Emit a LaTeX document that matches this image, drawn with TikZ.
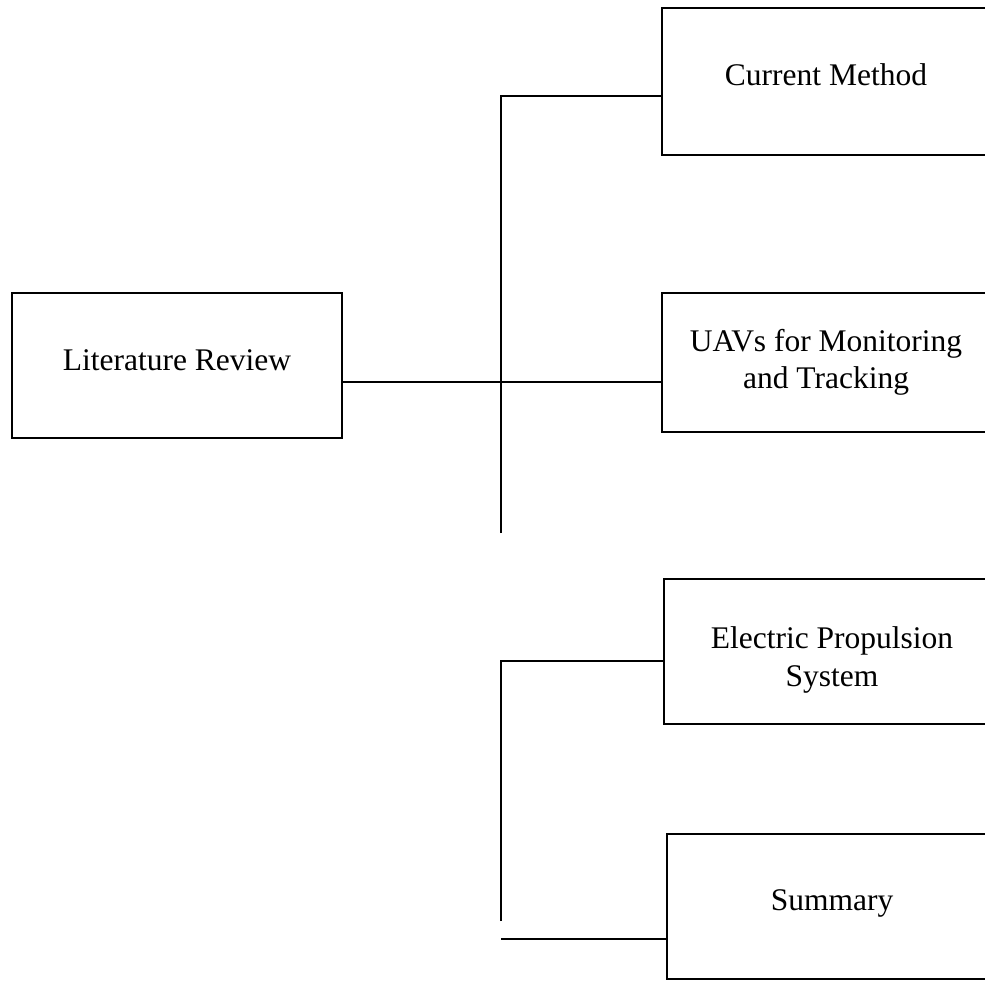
\documentclass[tikz,border=0pt]{standalone}
\usepackage{fontspec}
\setmainfont{Liberation Serif}
\begin{document}
\begin{tikzpicture}[x=1pt,y=-1pt,
  box/.style={draw, line width=2.2pt, align=center, inner sep=0pt,
    font=\fontsize{31.5}{37}\selectfont},
  link/.style={line width=1.7pt}]
\useasboundingbox (0,0) rectangle (985,981);
\clip (0,0) rectangle (985,981);
\node[box, minimum width=330, minimum height=145] (lr) at (177,365.5) {\raisebox{10pt}{Literature Review}};
\node[box, minimum width=328, minimum height=147] (cm) at (826,81.5) {\raisebox{13pt}{Current Method}};
\node[box, minimum width=328, minimum height=139] (uav) at (826,362.5) {UAVs for Monitoring\\and Tracking};
\node[box, minimum width=336, minimum height=145, font=\fontsize{31.5}{38}\selectfont] (eps) at (832,651.5) {\\[-38pt]\\Electric Propulsion\\System};
\node[box, minimum width=330, minimum height=145] (sum) at (832,906.5) {\raisebox{12pt}{Summary}};
\coordinate (t1) at (501,533);
\coordinate (t2) at (501,96);
\coordinate (m) at (0,382);
\coordinate (b1) at (501,921);
\coordinate (b2) at (501,661);
\coordinate (s1) at (501,939);
\draw[link] (t1) -- (t2) -- (cm.west |- t2);
\draw[link] (lr.east |- m) -- (uav.west |- m);
\draw[link] (b1) -- (b2) -- (eps.west |- b2);
\draw[link] (s1) -- (sum.west |- s1);
\end{tikzpicture}
\end{document}
